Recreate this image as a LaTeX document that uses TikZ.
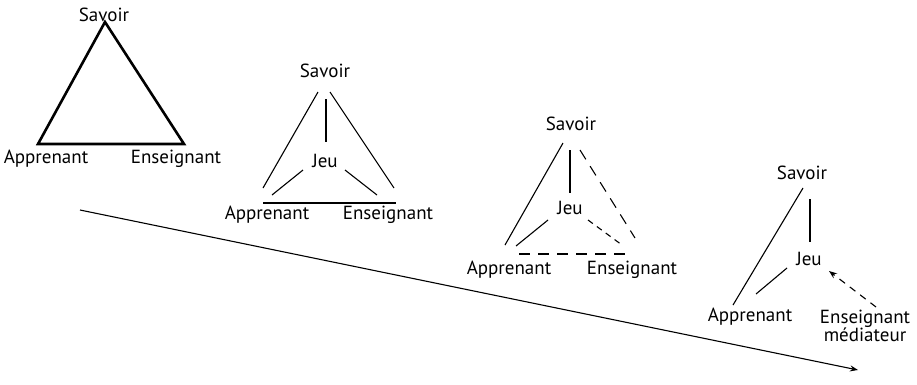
\documentclass[tikz,border=0pt]{standalone}
\usepackage{fontspec}
\setmainfont{PT Sans}
\usetikzlibrary{arrows.meta}
\begin{document}
\begin{tikzpicture}[x=1pt,y=-1pt,
  lbl/.style={inner sep=0pt,font=\fontsize{19}{21}\selectfont},
  link/.style={line width=1.1pt},
  thick link/.style={line width=2.6pt,line join=miter},
  dash link/.style={line width=1.1pt,dash pattern=on 11pt off 8pt},
  tip/.style={-{Stealth[length=8pt,width=6pt]}}]
\useasboundingbox (0,0) rectangle (917,384);

% --- stage 1: classic triangle
\node[lbl] (s1) at (104,15) {Savoir};
\node[lbl] (a1) at (46,159) {Apprenant};
\node[lbl] (e1) at (176,159) {Enseignant};
\coordinate (s1v) at (105,22);
\coordinate (a1v) at (38,144);
\coordinate (e1v) at (184,144);
\draw[thick link] (s1v) -- (a1v) -- (e1v) -- cycle;

% --- stage 2: the game in the middle
\node[lbl] (s2) at (325,71) {Savoir};
\node[lbl] (j2) at (325,161) {Jeu};
\node[lbl] (a2) at (267,215) {Apprenant};
\node[lbl] (e2) at (388,215) {Enseignant};
\coordinate (s2l) at (318,92);  \coordinate (a2t) at (263,188);
\coordinate (s2r) at (330,92);  \coordinate (e2t) at (394,188);
\coordinate (s2b) at (326,99);  \coordinate (j2t) at (326,142);
\coordinate (j2l) at (303,170); \coordinate (a2j) at (272,195);
\coordinate (j2r) at (345,170); \coordinate (e2j) at (377,195);
\coordinate (a2b) at (263,203); \coordinate (e2b) at (396,203);
\draw[link] (s2l) -- (a2t);
\draw[link] (s2r) -- (e2t);
\draw[link] (s2b) -- (j2t);
\draw[link] (j2l) -- (a2j);
\draw[link] (j2r) -- (e2j);
\draw[link] (a2b) -- (e2b);

% --- stage 3: the teacher steps back
\node[lbl] (s3) at (571,124) {Savoir};
\node[lbl] (j3) at (570,208) {Jeu};
\node[lbl] (a3) at (509,270) {Apprenant};
\node[lbl] (e3) at (632,270) {Enseignant};
\coordinate (s3l) at (563,143); \coordinate (a3t) at (505,245);
\coordinate (s3b) at (570,150); \coordinate (j3t) at (570,193);
\coordinate (s3r) at (580,150); \coordinate (e3t) at (635,238);
\coordinate (j3l) at (548,220); \coordinate (a3j) at (516,246);
\coordinate (j3r) at (588,220); \coordinate (e3j) at (622,245);
\coordinate (a3b) at (519,254); \coordinate (e3b) at (630,254);
\draw[link] (s3l) -- (a3t);
\draw[link] (s3b) -- (j3t);
\draw[dash link] (s3r) -- (e3t);
\draw[link] (j3l) -- (a3j);
\draw[dash link,dash pattern=on 6pt off 5pt] (j3r) -- (e3j);
\draw[dash link] (a3b) -- (e3b);

% --- stage 4: the teacher as mediator
\node[lbl] (s4) at (802,173) {Savoir};
\node[lbl] (j4) at (809,259) {Jeu};
\node[lbl] (a4) at (750,317) {Apprenant};
\node[lbl,align=center] (e4) at (865,326) {Enseignant\\[-3pt]médiateur};
\coordinate (s4l) at (803,188); \coordinate (a4t) at (733,305);
\coordinate (s4b) at (810,199); \coordinate (j4t) at (810,242);
\coordinate (j4l) at (787,268); \coordinate (a4j) at (756,294);
\coordinate (e4t) at (876,307); \coordinate (j4r) at (829,271);
\draw[link] (s4l) -- (a4t);
\draw[link] (s4b) -- (j4t);
\draw[link] (j4l) -- (a4j);
\draw[link,tip,dash pattern=on 7pt off 6pt] (e4t) -- (j4r);

% --- evolution arrow
\coordinate (t0) at (80,210);
\coordinate (t1) at (858,370);
\draw[link,tip] (t0) -- (t1);
\end{tikzpicture}
\end{document}
